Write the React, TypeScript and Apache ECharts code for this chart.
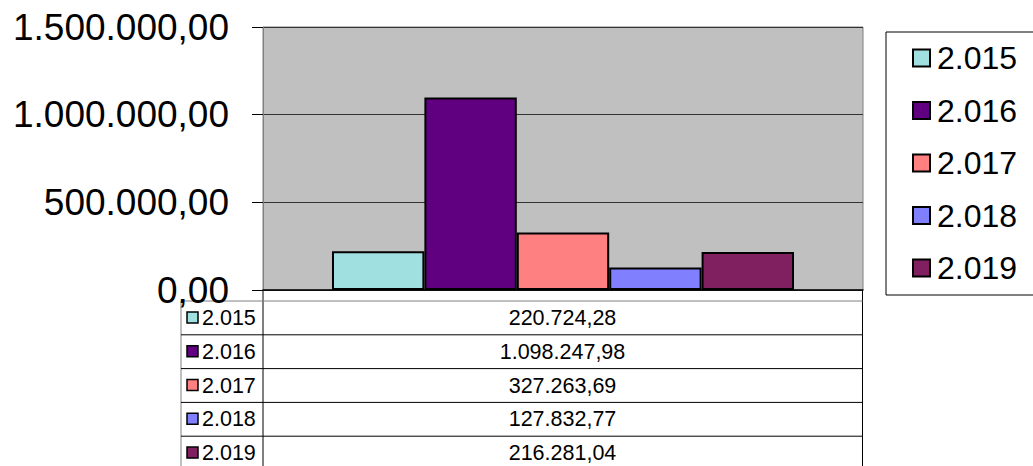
import React, { useEffect, useRef } from "react";
import * as echarts from "echarts";

const years = ["2.015", "2.016", "2.017", "2.018", "2.019"];
const values = [220724.28, 1098247.98, 327263.69, 127832.77, 216281.04];
const colors = ["#a0e0e0", "#600080", "#ff8080", "#8080ff", "#802060"];
const yTicks = { min: 0, max: 1500000, interval: 500000 };

function fmt(v: number): string {
  const neg = v < 0;
  const s = Math.abs(v).toFixed(2);
  const [intPart, dec] = s.split(".");
  const withDots = intPart.replace(/\B(?=(\d{3})+(?!\d))/g, ".");
  return (neg ? "-" : "") + withDots + "," + dec;
}

const FONT = "'Liberation Sans', Arial, sans-serif";

export default function App() {
  const ref = useRef<HTMLDivElement>(null);
  useEffect(() => {
    if (!ref.current) return;
    const chart = echarts.init(ref.current, undefined, { renderer: "svg" });

    const gridLeft = 263;
    const gridRight = 862;
    const tableLeft = 181;
    const tableTop = 301;
    const rowH = 33.8;
    const graphics: any[] = [];
    graphics.push({ type: "line", shape: { x1: gridLeft, y1: 290, x2: gridLeft, y2: 470 }, style: { stroke: "#000", lineWidth: 1 } });
    graphics.push({ type: "line", shape: { x1: gridRight + 0.5, y1: 290, x2: gridRight + 0.5, y2: 470 }, style: { stroke: "#000", lineWidth: 1 } });
    graphics.push({ type: "line", shape: { x1: tableLeft, y1: tableTop, x2: tableLeft, y2: 470 }, style: { stroke: "#808080", lineWidth: 1 } });
    years.forEach((y, i) => {
      const top = tableTop + i * rowH;
      const cy = top + rowH / 2;
      graphics.push({
        type: "line",
        shape: { x1: tableLeft, y1: top, x2: gridRight + 0.5, y2: top },
        style: { stroke: i === 0 ? "#808080" : "#000", lineWidth: 1 },
      });
      graphics.push({
        type: "rect",
        shape: { x: 187, y: cy - 6, width: 11, height: 11 },
        style: { fill: colors[i], stroke: "#000", lineWidth: 1.5 },
      });
      graphics.push({
        type: "text",
        x: 202,
        y: cy,
        style: { text: y, fontSize: 21.5, fontFamily: FONT, fill: "#000", verticalAlign: "middle" },
      });
      graphics.push({
        type: "text",
        x: (gridLeft + gridRight) / 2,
        y: cy,
        style: { text: fmt(values[i]), fontSize: 21.5, fontFamily: FONT, fill: "#000", align: "center", verticalAlign: "middle" },
      });
    });

    chart.setOption({
      animation: false,
      grid: {
        left: gridLeft,
        top: 27,
        width: 600,
        height: 263,
        show: true,
        backgroundColor: "#c0c0c0",
        borderColor: "#808080",
        borderWidth: 1,
      },
      legend: {
        orient: "vertical",
        left: 886,
        top: 32,
        padding: [10, 80, 11, 26],
        itemWidth: 17,
        itemHeight: 17,
        itemGap: 20.5,
        borderColor: "#000",
        borderWidth: 1,
        icon: "rect",
        textStyle: { fontSize: 32, lineHeight: 32, fontFamily: FONT, color: "#000", padding: [0, 0, 0, 2] },
        data: years,
      },
      xAxis: {
        type: "category",
        data: [""],
        axisLabel: { show: false },
        axisTick: { show: false },
        axisLine: { show: true, lineStyle: { color: "#000", width: 1.5 } },
      },
      yAxis: {
        type: "value",
        min: yTicks.min,
        max: yTicks.max,
        interval: yTicks.interval,
        axisLine: { show: true, lineStyle: { color: "#808080", width: 1 } },
        axisTick: { show: true, length: 11, lineStyle: { color: "#000" } },
        splitLine: { show: true, lineStyle: { color: "#333", width: 1 } },
        axisLabel: {
          formatter: (v: number) => fmt(v),
          fontSize: 37,
          fontFamily: FONT,
          color: "#000",
          margin: 34,
        },
      },
      series: years.map((y, i) => ({
        name: y,
        type: "bar",
        data: [values[i]],
        barGap: "0%",
        barCategoryGap: "23%",
        itemStyle: { color: colors[i], borderColor: "#000", borderWidth: 2 },
      })),
      graphic: graphics,
    });
    return () => chart.dispose();
  }, []);
  return (
    <div
      ref={ref}
      style={{ position: "fixed", left: 0, top: 0, width: 1033, height: 466, background: "#fff" }}
    />
  );
}
